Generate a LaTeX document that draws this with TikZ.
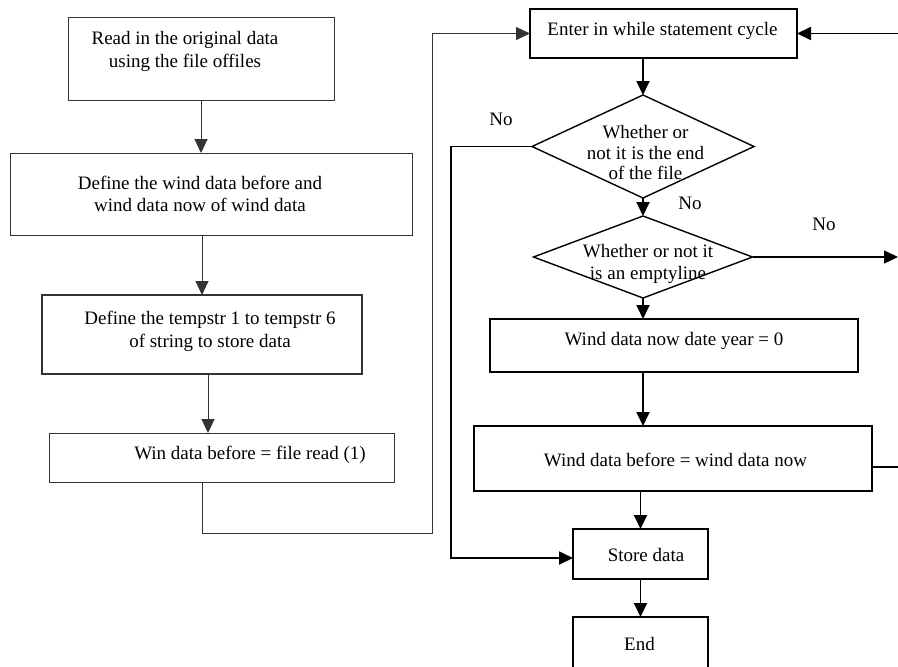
\documentclass[tikz,border=0pt]{standalone}
\usepackage{fontspec}
\setmainfont{Liberation Serif}
\usetikzlibrary{arrows.meta}
\usetikzlibrary{shapes.geometric}

\tikzset{
  thinbox/.style={draw=black!80,line width=1pt,inner sep=0pt,outer sep=0pt},
  thickbox/.style={draw,line width=1.8pt,inner sep=0pt,outer sep=0pt},
  decision/.style={diamond,draw,line width=1.4pt,inner sep=0pt,outer sep=0pt},
  txt/.style={align=center,inner sep=0pt},
  thinarr/.style={draw=black!80,line width=1pt,-{Triangle[length=14pt,width=13pt]}},
  thickarr/.style={line width=1.8pt,-{Triangle[length=14pt,width=13pt]}}
}

\begin{document}
\begin{tikzpicture}[x=1pt,y=-1pt,font=\fontsize{19}{22.5}\selectfont]
\useasboundingbox (0,0) rectangle (898,667);
% left column
\node[thinbox,minimum width=266pt,minimum height=83pt] (read) at (201,58.5) {};
\node[txt] (readtxt) at (185,51.5) {Read in the original data\\using the file offiles};
\node[thinbox,minimum width=402pt,minimum height=82pt] (defwind) at (211,194) {};
\node[txt] (defwindtxt) at (200,194) {Define the wind data before and\\wind data now of wind data};
\node[thinbox,line width=1.5pt,minimum width=320pt,minimum height=79pt] (tempstr) at (202,334.5) {};
\node[txt] (tempstrtxt) at (210,331.5) {Define the tempstr 1 to tempstr 6\\of string to store data};
\node[thinbox,minimum width=345pt,minimum height=49pt] (winread) at (221.5,457.5) {};
\node[txt] (winreadtxt) at (250,454.5) {Win data before = file read (1)};
\draw[thinarr] (read.south) -- (read.south |- defwind.north);
\draw[thinarr] (defwind.south -| tempstr.north) -- (tempstr.north);
\draw[thinarr] ([xshift=6pt]tempstr.south) -- ([xshift=6pt]tempstr.south |- winread.north);
% right column
\node[thickbox,minimum width=267pt,minimum height=49pt] (enter) at (663.5,33.5) {};
\node[txt] (entertxt) at (662.5,30.5) {Enter in while statement cycle};
\node[decision,minimum width=222pt,minimum height=103pt] (dend) at (643,146.5) {};
\node[txt,font=\fontsize{19}{20.5}\selectfont] (dendtxt) at (645.5,152.5) {Whether or\\not it is the end\\of the file};
\node[decision,minimum width=219pt,minimum height=82pt] (dempty) at (643,257) {};
\node[txt] (demptytxt) at (648,264) {Whether or not it\\is an emptyline};
\node[thickbox,minimum width=368pt,minimum height=53pt] (windnow) at (674,345.5) {};
\node[txt] (windnowtxt) at (674,340.5) {Wind data now date year = 0};
\node[thickbox,minimum width=398pt,minimum height=65pt] (windbef) at (673,458.5) {};
\node[txt] (windbeftxt) at (675.5,459.5) {Wind data before = wind data now};
\node[thickbox,minimum width=135pt,minimum height=50pt] (store) at (640.5,554) {};
\node[txt] (storetxt) at (646,554.5) {Store data};
\node[thickbox,minimum width=135pt,minimum height=53pt] (end) at (640.5,643.5) {};
\node[txt] (endtxt) at (639.5,643.5) {End};
\node (no1) at (501,119.5) {No};
\node (no2) at (690,203.5) {No};
\node (no3) at (824,224.5) {No};
% loop and branches
\coordinate (turn) at (432,533);
\coordinate (loopr) at (898,33.5);
\coordinate (noleft) at (451,558);
\coordinate (noright) at (898,257);
\coordinate (backr) at (898,467);
\draw[thinarr] (winread.south -| tempstr.south) |- (turn) |- (enter.west);
\draw[thickarr] (loopr) -- (enter.east);
\draw[thickarr] (dend.north |- enter.south) -- (dend.north);
\draw[thickarr] (dend.west) -| (noleft) -- (noleft -| store.west);
\draw[thickarr] (dend.south) -- (dempty.north);
\draw[thickarr,line width=1.4pt] (dempty.east) -- (noright);
\draw[thickarr] (dempty.south) -- (dempty.south |- windnow.north);
\draw[thickarr] (dempty.south |- windnow.south) -- (dempty.south |- windbef.north);
\draw[line width=1.4pt] (backr -| windbef.east) -- (backr);
\draw[thickarr] (store |- windbef.south) -- (store.north);
\draw[thickarr] (store.south) -- (end.north);
\end{tikzpicture}
\end{document}
